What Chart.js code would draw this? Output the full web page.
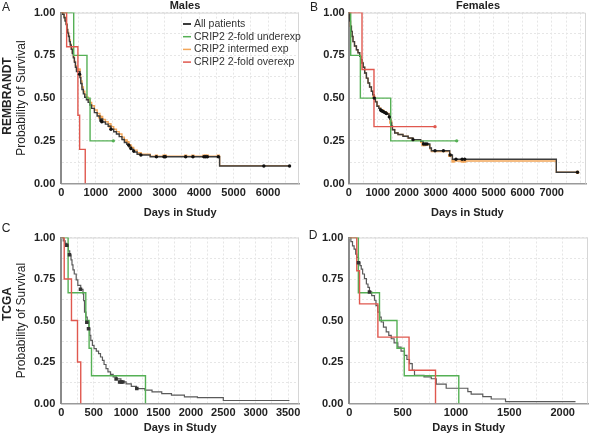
<!DOCTYPE html>
<html>
<head>
<meta charset="utf-8">
<script src="https://cdn.jsdelivr.net/npm/chart.js@4.4.1/dist/chart.umd.min.js"></script>
<style>
body{margin:0;background:#fff;width:592px;height:439px;position:relative;overflow:hidden;font-family:Arial,"Liberation Sans",sans-serif}
.box{position:absolute}
.txt{position:absolute;transform:translate(-50%,-50%);white-space:nowrap;color:#222}
.rot{transform:translate(-50%,-50%) rotate(-90deg)}
</style>
</head>
<body>
<div class="box" style="left:0;top:0;width:310px;height:220px"><canvas id="chartA"></canvas></div>
<div class="box" style="left:300px;top:0;width:292px;height:220px"><canvas id="chartB"></canvas></div>
<div class="box" style="left:0;top:220px;width:310px;height:219px"><canvas id="chartC"></canvas></div>
<div class="box" style="left:300px;top:220px;width:292px;height:219px"><canvas id="chartD"></canvas></div>

<div class="txt" style="left:6px;top:7px;font-size:12px">A</div>
<div class="txt" style="left:314px;top:7px;font-size:12px">B</div>
<div class="txt" style="left:6px;top:228px;font-size:12px">C</div>
<div class="txt" style="left:313px;top:235px;font-size:12px">D</div>
<div class="txt" style="left:185px;top:5px;font-size:11px;font-weight:bold">Males</div>
<div class="txt" style="left:478px;top:5px;font-size:11px;font-weight:bold">Females</div>
<div class="txt rot" style="left:7px;top:96px;font-size:12px;font-weight:bold">REMBRANDT</div>
<div class="txt rot" style="left:7px;top:304px;font-size:12px;font-weight:bold">TCGA</div>

<script>
Chart.defaults.font.family = 'Arial, "Liberation Sans", sans-serif'
Chart.defaults.color = '#222'

// tick labels and grid positions
const survGrid = [0, 0.125, 0.25, 0.375, 0.5, 0.625, 0.75, 0.875, 1]
const survLabels = [0, 0.25, 0.5, 0.75, 1]
const daysLabelsRem = [0, 1000, 2000, 3000, 4000, 5000, 6000, 7000]
const daysGridRemMale = [0, 500, 1000, 1500, 2000, 2500, 3000, 3500, 4000, 4500, 5000, 5500, 6000, 6500]
const daysGridRemFem = [0, 500, 1000, 1500, 2000, 2500, 3000, 3500, 4000, 4500, 5000, 5500, 6000, 6500, 7000, 7500, 8000]
const daysLabelsTcga = [0, 500, 1000, 1500, 2000, 2500, 3000, 3500]
const daysGridTcgaMale = [0, 250, 500, 750, 1000, 1250, 1500, 1750, 2000, 2250, 2500, 2750, 3000, 3250, 3500]
const daysGridTcgaFem = [0, 250, 500, 750, 1000, 1250, 1500, 1750, 2000]

const legendLabels = ['All patients', 'CRIP2 2-fold underexp', 'CRIP2 intermed exp', 'CRIP2 2-fold overexp']

// REMBRANDT males  [day, survival]
const remMaleAll = [[0,1],[40,0.99],[80,0.97],[110,0.95],[140,0.93],[165,0.9],[185,0.88],[210,0.86],[235,0.83],[260,0.81],[290,0.785],[320,0.76],[350,0.735],[380,0.71],[410,0.68],[440,0.655],[540,0.62],[565,0.585],[600,0.55],[640,0.525],[680,0.505],[730,0.49],[780,0.475],[830,0.46],[880,0.44],[960,0.415],[1040,0.395],[1120,0.378],[1200,0.36],[1280,0.348],[1360,0.335],[1440,0.318],[1520,0.303],[1600,0.29],[1680,0.275],[1760,0.258],[1830,0.24],[1900,0.23],[1960,0.215],[2020,0.2],[2100,0.185],[2200,0.172],[2300,0.167],[2580,0.157],[4594,0.103],[6623,0.103]]
const remMaleMid = [[0,1],[40,0.99],[80,0.975],[110,0.955],[140,0.935],[165,0.905],[185,0.885],[210,0.865],[235,0.84],[260,0.815],[290,0.79],[320,0.765],[350,0.74],[380,0.715],[410,0.69],[440,0.665],[540,0.63],[565,0.6],[600,0.565],[640,0.54],[680,0.52],[730,0.505],[780,0.49],[830,0.475],[880,0.455],[960,0.43],[1040,0.41],[1120,0.392],[1200,0.375],[1280,0.362],[1360,0.35],[1440,0.333],[1520,0.318],[1600,0.304],[1680,0.29],[1760,0.272],[1830,0.254],[1900,0.243],[1960,0.228],[2020,0.212],[2100,0.196],[2200,0.18],[2300,0.172],[2580,0.16],[4594,0.105],[6623,0.105]]
const remMaleUnder = [[0,1],[360,0.75],[745,0.5],[835,0.25],[1510,0.25]]
const remMaleOver = [[0,1],[155,0.8],[482,0.4],[532,0.2],[695,0]]
const remMaleAllCens = [[530,0.64],[1150,0.368],[1175,0.362],[1440,0.318],[1960,0.225],[2020,0.205],[2100,0.19],[2310,0.167],[2759,0.157],[2980,0.157],[3020,0.157],[3609,0.157],[3820,0.157],[4139,0.157],[4188,0.157],[4238,0.157],[4557,0.157],[5878,0.103],[6623,0.103]]
const remMaleMidCens = [[516,0.665],[1110,0.39],[1140,0.385],[1420,0.335],[1880,0.25],[1930,0.24],[2010,0.215],[2290,0.175],[2759,0.16],[2980,0.16],[3020,0.16],[3609,0.16],[3820,0.16],[4139,0.16],[4188,0.16],[4238,0.16],[4557,0.16]]
const remMaleUnderCens = [[1510,0.25]]

// REMBRANDT females
const remFemAll = [[0,1],[20,0.97],[35,0.95],[60,0.92],[93,0.89],[120,0.86],[148,0.83],[200,0.805],[266,0.783],[320,0.765],[379,0.744],[420,0.725],[459,0.705],[500,0.68],[552,0.647],[610,0.617],[666,0.588],[720,0.565],[783,0.54],[830,0.52],[872,0.5],[920,0.478],[976,0.452],[1040,0.44],[1103,0.426],[1200,0.417],[1300,0.407],[1390,0.393],[1420,0.375],[1448,0.354],[1480,0.335],[1507,0.315],[1586,0.296],[1700,0.287],[1872,0.277],[2050,0.267],[2217,0.257],[2483,0.247],[2566,0.232],[2797,0.208],[2852,0.192],[3483,0.167],[3576,0.142],[7160,0.066],[7890,0.066]]
const remFemMid = [[0,1],[20,0.97],[35,0.95],[60,0.92],[93,0.89],[120,0.86],[148,0.83],[200,0.805],[266,0.783],[320,0.765],[379,0.744],[420,0.725],[459,0.705],[500,0.68],[552,0.647],[610,0.617],[666,0.588],[720,0.565],[783,0.54],[830,0.52],[872,0.503],[920,0.48],[976,0.455],[1040,0.443],[1103,0.43],[1200,0.42],[1300,0.41],[1390,0.396],[1420,0.378],[1448,0.357],[1480,0.337],[1507,0.316],[1586,0.297],[1700,0.287],[1872,0.277],[2050,0.265],[2217,0.254],[2483,0.242],[2566,0.226],[2797,0.203],[2852,0.188],[3483,0.162],[3576,0.132],[7160,0.066],[7890,0.066]]
const remFemUnder = [[0,1],[69,0.75],[402,0.5],[1448,0.25],[3724,0.25]]
const remFemOver = [[0,1],[459,0.667],[872,0.333],[2976,0.333]]
const remFemAllCens = [[880,0.5],[1100,0.43],[1130,0.426],[1160,0.424],[1200,0.42],[1250,0.415],[1300,0.41],[1400,0.39],[2217,0.257],[2580,0.232],[2640,0.232],[2700,0.232],[2976,0.192],[3266,0.192],[3500,0.167],[3700,0.142],[3911,0.142],[4000,0.142],[7890,0.066]]
const remFemMidCens = [[872,0.505],[1448,0.36],[2560,0.228],[2620,0.228],[3483,0.165],[3600,0.132],[3911,0.132],[4000,0.132],[7890,0.066]]
const remFemUnderCens = [[3724,0.25]]
const remFemOverCens = [[2976,0.333]]

// TCGA males
const tcgaMaleAll = [[0,1],[30,0.98],[60,0.965],[85,0.953],[110,0.92],[130,0.895],[150,0.865],[165,0.835],[180,0.805],[200,0.78],[230,0.745],[255,0.712],[300,0.688],[335,0.66],[345,0.62],[358,0.55],[380,0.52],[400,0.49],[425,0.45],[440,0.41],[455,0.38],[480,0.35],[505,0.33],[540,0.315],[575,0.3],[605,0.28],[635,0.26],[660,0.235],[690,0.21],[720,0.19],[760,0.175],[800,0.16],[850,0.148],[920,0.13],[1000,0.118],[1080,0.103],[1160,0.09],[1290,0.08],[1400,0.07],[1550,0.06],[1700,0.05],[1900,0.04],[2100,0.035],[2500,0.018],[3520,0.018]]
const tcgaMaleUnder = [[0,1],[105,0.667],[378,0.5],[429,0.333],[466,0.167],[1299,0]]
const tcgaMaleOver = [[0,1],[45,0.75],[157,0.5],[250,0.25],[300,0]]
const tcgaMaleCens = [[85,0.953],[126,0.896],[296,0.688],[394,0.49],[420,0.45],[846,0.148],[900,0.13],[925,0.13],[950,0.13],[1165,0.09]]

// TCGA females
const tcgaFemAll = [[0,1],[15,0.975],[30,0.95],[45,0.93],[60,0.9],[70,0.88],[86,0.85],[100,0.83],[112,0.81],[125,0.78],[142,0.752],[160,0.72],[175,0.7],[189,0.672],[210,0.65],[236,0.622],[250,0.59],[267,0.551],[285,0.52],[299,0.491],[320,0.46],[346,0.431],[370,0.41],[393,0.39],[420,0.365],[455,0.34],[485,0.315],[517,0.29],[540,0.265],[564,0.24],[590,0.2],[611,0.17],[700,0.16],[768,0.149],[815,0.117],[908,0.092],[1111,0.071],[1142,0.057],[1251,0.041],[1330,0.027],[1464,0.011],[2120,0.011]]
const tcgaFemUnder = [[0,1],[85,0.667],[283,0.5],[447,0.333],[515,0.167],[1026,0]]
const tcgaFemOver = [[0,1],[70,0.8],[96,0.6],[268,0.4],[560,0.2],[808,0]]
const tcgaFemCens = [[86,0.848],[189,0.672]]

const colAll = '#3c3c3c'
const colGray = '#5a5a5a'
const colUnder = '#55b055'
const colMid = '#f2a65a'
const colOver = '#e0584f'

function pts(arr) {
    return arr.map(p => ({x: p[0], y: p[1]}))
}
function curve(label, arr, color, width) {
    return {type: 'line', label: label, data: pts(arr), borderColor: color, backgroundColor: color,
        borderWidth: width, stepped: true, pointRadius: 0, fill: false}
}
function marks(label, arr, color, style, r) {
    return {type: 'scatter', label: label, data: pts(arr), backgroundColor: color, borderColor: color,
        borderWidth: 0, pointStyle: style, pointRadius: r, showLine: false}
}

// light frame on top and right of the plot
const framePlugin = {
    id: 'frame',
    beforeDatasetsDraw(chart) {
        const a = chart.chartArea, c = chart.ctx
        c.save()
        c.strokeStyle = '#d6d6d6'
        c.lineWidth = 1
        c.beginPath()
        c.moveTo(a.left, a.top + 0.5)
        c.lineTo(a.right - 0.5, a.top + 0.5)
        c.lineTo(a.right - 0.5, a.bottom)
        c.stroke()
        c.restore()
    }
}

const legendPlugin = {
    id: 'kmLegend',
    afterDraw(chart) {
        const c = chart.ctx
        const cols = [colAll, colUnder, colMid, colOver]
        c.save()
        c.font = '10.5px Arial, "Liberation Sans", sans-serif'
        c.textBaseline = 'middle'
        legendLabels.forEach((t, i) => {
            const y = 24 + i * 12.7
            c.strokeStyle = cols[i]
            c.lineWidth = i === 0 ? 2 : 1.5
            c.beginPath()
            c.moveTo(183, y)
            c.lineTo(191, y)
            c.stroke()
            c.fillStyle = '#333'
            c.fillText(t, 194, y)
        })
        c.restore()
    }
}

function survLabel(v) {
    return survLabels.some(s => Math.abs(s - v) < 1e-9) ? v.toFixed(2) : ''
}

function makeChart(id, p) {
    const ctx = document.getElementById(id).getContext('2d')
    return new Chart(ctx, {
        type: 'scatter',
        data: {datasets: p.datasets},
        plugins: p.legend ? [framePlugin, legendPlugin] : [framePlugin],
        options: {
            animation: false,
            responsive: true,
            maintainAspectRatio: false,
            events: [],
            layout: {padding: {top: p.top, right: p.right, left: 0, bottom: 0}},
            plugins: {legend: {display: false}, tooltip: {enabled: false}, title: {display: false}},
            scales: {
                x: {
                    type: 'linear', min: 0, max: p.xMax,
                    afterFit(s) { s.height = p.xHeight },
                    afterBuildTicks(s) { s.ticks = p.xGrid.map(v => ({value: v})) },
                    ticks: {
                        padding: 3, autoSkip: false, maxRotation: 0, color: '#222',
                        font: {size: 11, weight: 'bold'},
                        callback: v => p.xLabels.includes(v) ? String(v) : ''
                    },
                    grid: {color: '#e6e6e6', drawTicks: false},
                    border: {display: true, color: '#9a9a9a', width: 1.5, dash: [2, 2]},
                    title: {display: true, text: 'Days in Study', color: '#222',
                        font: {size: 11, weight: 'bold'}, padding: {top: 0, bottom: p.xTitlePad}}
                },
                y: {
                    type: 'linear', min: 0, max: 1,
                    afterFit(s) { s.width = p.left },
                    afterBuildTicks(s) { s.ticks = survGrid.map(v => ({value: v})) },
                    ticks: {padding: p.yPad, autoSkip: false, color: '#222',
                        font: {size: 11, weight: 'bold'}, callback: survLabel},
                    grid: {color: '#e6e6e6', drawTicks: false},
                    border: {display: true, color: '#8a8a8a', width: 2, dash: [2, 2]},
                    title: {display: p.yTitle, text: 'Probability of Survival', color: '#222',
                        font: {size: 12}, padding: {top: 14.8, bottom: 0}}
                }
            }
        }
    })
}

makeChart('chartA', {
    top: 12.6, right: 11, left: 61.3, xMax: 6898, xHeight: 36.4, xTitlePad: 0.4, yPad: 6, yTitle: true,
    xGrid: daysGridRemMale, xLabels: daysLabelsRem, legend: true,
    datasets: [
        marks('cens all', remMaleAllCens, '#111', 'circle', 1.7),
        marks('cens under', remMaleUnderCens, colUnder, 'circle', 1.7),
        curve(legendLabels[3], remMaleOver, colOver, 1.4),
        curve(legendLabels[1], remMaleUnder, colUnder, 1.4),
        curve(legendLabels[0], remMaleAll, colAll, 1.4),
        marks('cens mid', remMaleMidCens, colMid, 'rect', 2.3),
        curve(legendLabels[2], remMaleMid, colMid, 1.4)
    ]
})

makeChart('chartB', {
    top: 12.6, right: 6, left: 48.7, xMax: 8183, xHeight: 36.4, xTitlePad: 0.4, yPad: 4, yTitle: false,
    xGrid: daysGridRemFem, xLabels: daysLabelsRem, legend: false,
    datasets: [
        marks('cens all', remFemAllCens, '#111', 'circle', 1.7),
        marks('cens under', remFemUnderCens, colUnder, 'circle', 1.7),
        marks('cens over', remFemOverCens, colOver, 'circle', 1.7),
        curve(legendLabels[3], remFemOver, colOver, 1.4),
        curve(legendLabels[1], remFemUnder, colUnder, 1.4),
        curve(legendLabels[0], remFemAll, colAll, 1.4),
        marks('cens mid', remFemMidCens, colMid, 'rect', 2.3),
        curve(legendLabels[2], remFemMid, colMid, 1.4)
    ]
})

makeChart('chartC', {
    top: 17.5, right: 11, left: 61.3, xMax: 3668, xHeight: 35.5, xTitlePad: 4.1, yPad: 6, yTitle: true,
    xGrid: daysGridTcgaMale, xLabels: daysLabelsTcga, legend: false,
    datasets: [
        marks('cens', tcgaMaleCens, '#333', 'rect', 2.5),
        curve(legendLabels[3], tcgaMaleOver, colOver, 1.4),
        curve(legendLabels[1], tcgaMaleUnder, colUnder, 1.4),
        curve(legendLabels[0], tcgaMaleAll, colGray, 1.2)
    ]
})

makeChart('chartD', {
    top: 17.5, right: 4, left: 49.3, xMax: 2237, xHeight: 35.5, xTitlePad: 4.1, yPad: 6, yTitle: false,
    xGrid: daysGridTcgaFem, xLabels: daysLabelsTcga, legend: false,
    datasets: [
        marks('cens', tcgaFemCens, '#333', 'rect', 2.5),
        curve(legendLabels[3], tcgaFemOver, colOver, 1.4),
        curve(legendLabels[1], tcgaFemUnder, colUnder, 1.4),
        curve(legendLabels[0], tcgaFemAll, colGray, 1.2)
    ]
})
</script>
</body>
</html>
